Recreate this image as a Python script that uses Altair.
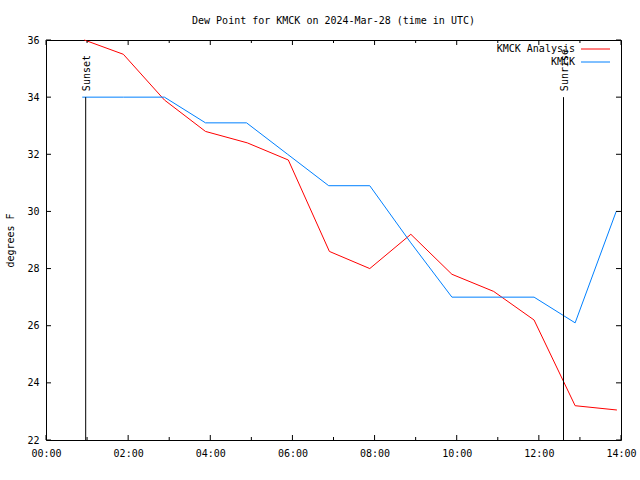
import altair as alt
import pandas as pd

# ---- data ----
analysis_times = ["00:56", "01:53", "02:53", "03:53", "04:54", "05:54", "06:54",
                  "07:53", "08:53", "09:53", "10:54", "11:53", "12:53", "13:54"]
analysis_vals = [36.0, 35.5, 33.9, 32.8, 32.4, 31.8, 28.6,
                 28.0, 29.2, 27.8, 27.2, 26.2, 23.2, 23.05]

obs_times = ["00:53", "01:53", "02:53", "03:53", "04:53", "05:53", "06:53",
             "07:53", "08:53", "09:53", "10:53", "11:53", "12:53", "13:53"]
obs_vals = [34.0, 34.0, 34.0, 33.1, 33.1, 32.0, 30.9,
            30.9, 28.9, 27.0, 27.0, 27.0, 26.1, 30.0]

sun_times = ["00:58", "12:36"]
sun_labels = ["Sunset", "Sunrise"]
sun_top = 34
sun_bottom = 22

x_major = [0, 2, 4, 6, 8, 10, 12, 14]
x_minor = [1, 3, 5, 7, 9, 11, 13]
y_ticks = [22, 24, 26, 28, 30, 32, 34, 36]

series_names = ["KMCK Analysis", "KMCK"]
series_colors = ["#ff0000", "#0080ff"]

FONT = "DejaVu Sans Mono"
W, H = 575, 400


def to_hours(t):
    h, m = t.split(":")
    return int(h) + int(m) / 60.0


df_a = pd.DataFrame({"h": [to_hours(t) for t in analysis_times], "v": analysis_vals})
df_o = pd.DataFrame({"h": [to_hours(t) for t in obs_times], "v": obs_vals})
df_sun = pd.DataFrame({"h": [to_hours(t) for t in sun_times], "label": sun_labels,
                       "top": sun_top, "bottom": sun_bottom})
df_xmaj = pd.DataFrame({"h": x_major})
df_xmin = pd.DataFrame({"h": x_minor})
df_y = pd.DataFrame({"v": y_ticks})

xscale = alt.Scale(domain=[0, 14], nice=False, zero=False)
yscale = alt.Scale(domain=[22, 36], nice=False, zero=False)

x_axis = alt.Axis(values=x_major, labelExpr="(datum.value < 10 ? '0' : '') + datum.value + ':00'",
                  ticks=False, domain=False, grid=False, title=None,
                  labelFont=FONT, labelFontSize=10, labelColor="black", labelPadding=8,
                  labelFlush=False, labelOverlap=False)
y_axis = alt.Axis(values=y_ticks, ticks=False, domain=False, grid=False, title="degrees F",
                  labelFont=FONT, labelFontSize=10, labelColor="black", labelPadding=7,
                  titleFont=FONT, titleFontSize=10, titleFontWeight="normal", titleColor="black",
                  titleAngle=270, titleX=-36, titleY=200, titleAlign="center",
                  titleBaseline="middle")

base_lines = alt.Chart(df_a).mark_line(color=series_colors[0], strokeWidth=1).encode(
    x=alt.X("h:Q", scale=xscale, axis=x_axis),
    y=alt.Y("v:Q", scale=yscale, axis=y_axis),
)
obs_line = alt.Chart(df_o).mark_line(color=series_colors[1], strokeWidth=1).encode(
    x=alt.X("h:Q", scale=xscale),
    y=alt.Y("v:Q", scale=yscale),
)

sun_rule = alt.Chart(df_sun).mark_rule(color="black", strokeWidth=1).encode(
    x=alt.X("h:Q", scale=xscale),
    y=alt.Y("top:Q", scale=yscale),
    y2="bottom:Q",
)
sun_text = alt.Chart(df_sun).mark_text(angle=270, align="left", baseline="middle",
                                       dx=6, dy=1, font=FONT, fontSize=10,
                                       color="black").encode(
    x=alt.X("h:Q", scale=xscale),
    y=alt.Y("top:Q", scale=yscale),
    text="label:N",
)

# inward ticks (gnuplot style) on all four sides
xmaj_b = alt.Chart(df_xmaj).mark_rule(color="black").encode(
    x=alt.X("h:Q", scale=xscale), y=alt.value(H), y2=alt.value(H - 5))
xmaj_t = alt.Chart(df_xmaj).mark_rule(color="black").encode(
    x=alt.X("h:Q", scale=xscale), y=alt.value(0), y2=alt.value(5))
xmin_b = alt.Chart(df_xmin).mark_rule(color="black").encode(
    x=alt.X("h:Q", scale=xscale), y=alt.value(H), y2=alt.value(H - 3))
xmin_t = alt.Chart(df_xmin).mark_rule(color="black").encode(
    x=alt.X("h:Q", scale=xscale), y=alt.value(0), y2=alt.value(3))
y_l = alt.Chart(df_y).mark_rule(color="black").encode(
    y=alt.Y("v:Q", scale=yscale), x=alt.value(0), x2=alt.value(5))
y_r = alt.Chart(df_y).mark_rule(color="black").encode(
    y=alt.Y("v:Q", scale=yscale), x=alt.value(W), x2=alt.value(W - 5))

# gnuplot-style key: label to the left of the line sample
key_layers = []
for i, (name, col) in enumerate(zip(series_names, series_colors)):
    ky = 9 + 13 * i
    dk = pd.DataFrame({"s": [name]})
    key_layers.append(alt.Chart(dk).mark_text(align="right", baseline="middle", font=FONT,
                                              fontSize=10, color="black").encode(
        x=alt.value(529), y=alt.value(ky), text="s:N"))
    key_layers.append(alt.Chart(dk).mark_rule(strokeWidth=1, color=col).encode(
        x=alt.value(535), x2=alt.value(564), y=alt.value(ky)))

chart = alt.layer(
    base_lines, obs_line, sun_rule, sun_text,
    xmaj_b, xmaj_t, xmin_b, xmin_t, y_l, y_r,
    *key_layers,
).properties(
    width=W, height=H,
    title=alt.TitleParams("Dew Point for KMCK on 2024-Mar-28 (time in UTC)",
                          font=FONT, fontSize=10, fontWeight="normal", color="black",
                          anchor="middle", baseline="middle", offset=0, dy=-4),
    autosize=alt.AutoSizeParams(type="none"),
    padding={"left": 46, "top": 40, "right": 19, "bottom": 40},
).configure(background="white").configure_view(stroke="black", strokeWidth=1)

chart.save("out.html", embed_options={"renderer": "svg", "actions": False})
